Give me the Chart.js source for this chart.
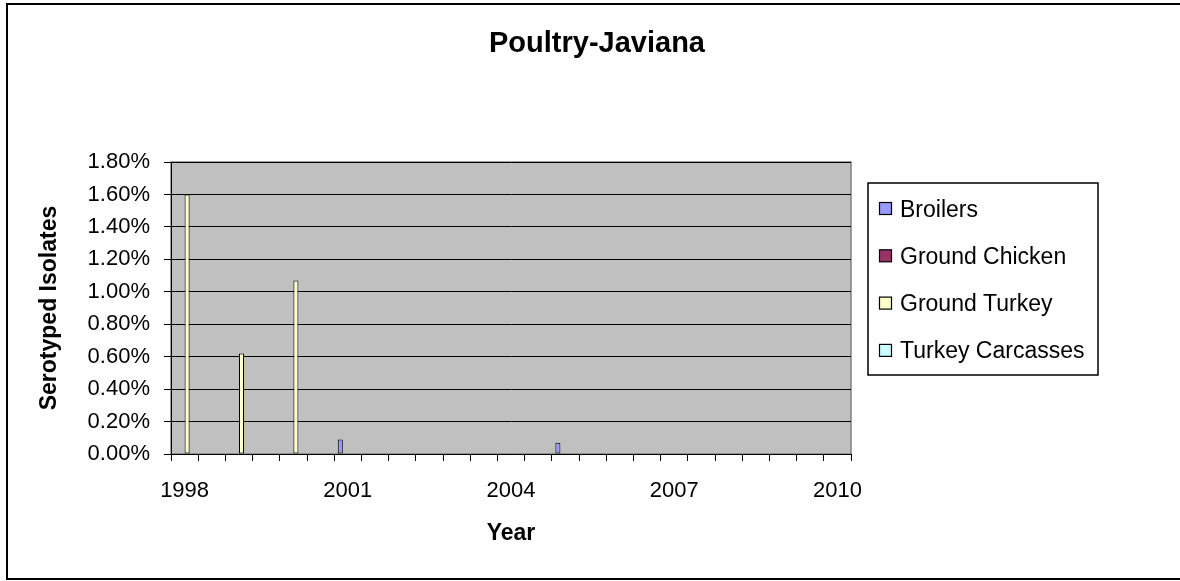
<!DOCTYPE html>
<html><head><meta charset="utf-8">
<script src="https://cdn.jsdelivr.net/npm/chart.js@4/dist/chart.umd.min.js"></script>
<style>html,body{margin:0;padding:0;background:#fff}#wrap{width:1180px;height:581px;position:relative}</style>
</head><body><div id="wrap"><canvas id="c"></canvas></div>
<script>
const chartTitle = 'Poultry-Javiana';
const categories = ['1998','','1999','','2000','','2001','','2002','','2003','','2004','','2005','','2006','','2007','','2008','','2009','','2010'];
const xTickLabels = ['1998','2001','2004','2007','2010'];
const seriesNames = ['Broilers','Ground Chicken','Ground Turkey','Turkey Carcasses'];
const seriesColors = ['#9999FF','#993366','#FFFFCC','#CCFFFF'];
const broilers        = [null,null,null,null,null,null,0.09,null,null,null,null,null,null,null,0.07,null,null,null,null,null,null,null,null,null,null];
const groundChicken   = [null,null,null,null,null,null,null,null,null,null,null,null,null,null,null,null,null,null,null,null,null,null,null,null,null];
const groundTurkey    = [1.60,null,0.62,null,1.07,null,null,null,null,null,null,null,null,null,null,null,null,null,null,null,null,null,null,null,null];
const turkeyCarcasses = [null,null,null,null,null,null,null,null,null,null,null,null,null,null,null,null,null,null,null,null,null,null,null,null,null];
const yMin = 0, yMax = 1.8, yStep = 0.2;

const FONT = "'Liberation Sans', Arial, sans-serif";
const seriesData = [broilers, groundChicken, groundTurkey, turkeyCarcasses];

const decor = {
  id: 'decor',
  beforeDraw(chart) {
    const {ctx, chartArea: a} = chart;
    ctx.save();
    ctx.fillStyle = '#fff';
    ctx.fillRect(0, 0, chart.width, chart.height);
    ctx.strokeStyle = '#000';
    ctx.lineWidth = 2;
    ctx.beginPath();
    ctx.moveTo(chart.width + 5, 4);
    ctx.lineTo(7, 4);
    ctx.lineTo(7, 579);
    ctx.lineTo(chart.width + 5, 579);
    ctx.stroke();
    ctx.fillStyle = '#C0C0C0';
    ctx.fillRect(a.left, a.top, a.width, a.height);
    ctx.strokeStyle = '#808080';
    ctx.lineWidth = 1.5;
    ctx.strokeRect(a.left, a.top, a.width, a.height);
    // title
    ctx.fillStyle = '#000';
    ctx.font = 'bold 29px ' + FONT;
    ctx.textAlign = 'center';
    ctx.textBaseline = 'alphabetic';
    ctx.fillText(chartTitle, 597, 52);
    ctx.restore();
  },
  afterDraw(chart) {
    const {ctx, chartArea: a} = chart;
    ctx.save();
    const bx = a.right + 17, by = 183, bw = 230, bh = 192;
    ctx.fillStyle = '#fff';
    ctx.fillRect(bx, by, bw, bh);
    ctx.strokeStyle = '#000';
    ctx.lineWidth = 1.5;
    ctx.strokeRect(bx, by, bw, bh);
    ctx.font = '23px ' + FONT;
    ctx.textBaseline = 'alphabetic';
    ctx.textAlign = 'left';
    chart.data.datasets.forEach((ds, i) => {
      const base = by + 33.5 + i * 47.3;
      ctx.fillStyle = ds.backgroundColor;
      ctx.fillRect(bx + 11.5, base - 14, 12, 12);
      ctx.strokeStyle = '#000';
      ctx.lineWidth = 1.2;
      ctx.strokeRect(bx + 11.5, base - 14, 12, 12);
      ctx.fillStyle = '#000';
      ctx.fillText(ds.label, bx + 32, base);
    });
    ctx.restore();
  }
};

new Chart(document.getElementById('c'), {
  type: 'bar',
  data: {
    labels: categories,
    datasets: seriesNames.map((n, i) => ({
      label: n,
      data: seriesData[i],
      backgroundColor: seriesColors[i],
      borderColor: '#000',
      borderWidth: 1,
      borderSkipped: false,
      barPercentage: 1,
      categoryPercentage: 0.735
    }))
  },
  options: {
    responsive: true,
    maintainAspectRatio: false,
    animation: false,
    layout: {padding: {left: 0, right: 329, top: 162, bottom: 0}},
    plugins: {
      legend: {display: false},
      tooltip: {enabled: false},
      title: {display: false}
    },
    scales: {
      x: {
        grid: {display: true, drawOnChartArea: false, drawTicks: true, tickLength: 7, color: '#000', offset: true},
        border: {display: true, color: '#000', width: 1},
        ticks: {autoSkip: false, maxRotation: 0, minRotation: 0, padding: 17, color: '#000',
          font: {family: FONT, size: 22},
          callback(v, i) { const l = categories[i]; return xTickLabels.includes(l) ? l : ''; }},
        title: {display: true, text: 'Year', color: '#000', font: {family: FONT, size: 23, weight: 'bold'},
          padding: {top: 0, bottom: 34}},
        afterFit(s) { s.height = 127; }
      },
      y: {
        min: yMin, max: yMax,
        grid: {color: '#000', tickLength: 7},
        border: {display: true, color: '#000', width: 1},
        ticks: {stepSize: yStep, padding: 14, color: '#000', font: {family: FONT, size: 22},
          callback: v => v.toFixed(2) + '%'},
        title: {display: true, text: 'Serotyped Isolates', color: '#000',
          font: {family: FONT, size: 23, weight: 'bold'}, padding: {top: 36, bottom: 0}},
        afterFit(s) { s.width = 171; }
      }
    }
  },
  plugins: [decor]
});
</script>
</body></html>
